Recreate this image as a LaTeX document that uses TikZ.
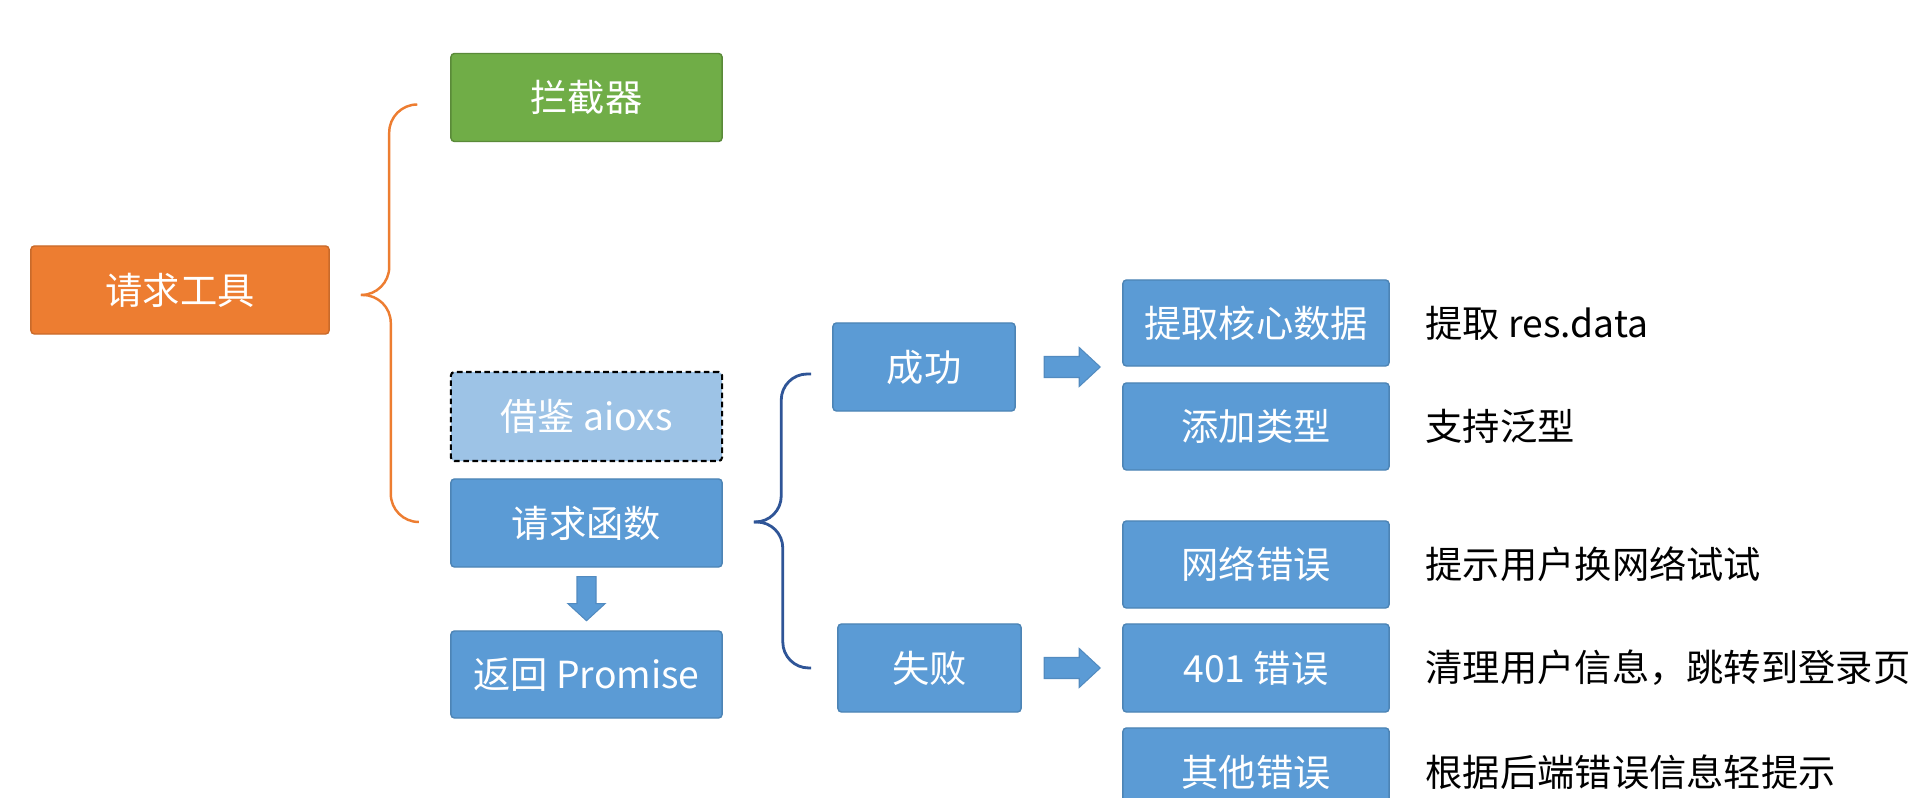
\documentclass[tikz,border=0pt]{standalone}
\usepackage{fontspec}
\setmainfont{Noto Sans CJK SC}
\usetikzlibrary{calc}
\definecolor{toolorange}{HTML}{ED7D31}
\definecolor{toolgreen}{HTML}{70AD47}
\definecolor{toolblue}{HTML}{5B9BD5}
\definecolor{toollight}{HTML}{9DC3E6}
\definecolor{bracenavy}{HTML}{2F5597}
\tikzset{
  box/.style={rectangle,rounded corners=1pt,inner sep=0pt,minimum height=0.88cm,
    text=white,line width=0.4pt,font=\fontsize{10.6pt}{12pt}\selectfont},
  bluebox/.style={box,fill=toolblue,draw=toolblue!85!black},
  note/.style={anchor=west,inner sep=0pt,font=\fontsize{10.6pt}{12pt}\selectfont},
  orangebrace/.style={draw=toolorange,line width=0.7pt,rounded corners=0.28cm},
  bluebrace/.style={draw=bracenavy,line width=0.8pt,rounded corners=0.26cm},
  fatarrow/.style={fill=toolblue,draw=toolblue!90!black,line width=0.3pt}
}
\begin{document}
\begin{tikzpicture}[x=0.01cm,y=-0.01cm]
  \useasboundingbox (0,0) rectangle (1926,798);
  \clip (0,0) rectangle (1926,798);
  % left column
  \node[box,fill=toolorange,draw=toolorange!85!black,minimum width=2.98cm] (tool) at (180,290) {请求工具};
  \node[box,fill=toolgreen,draw=toolgreen!80!black,minimum width=2.71cm] (intercept) at (586.5,97.5) {拦截器};
  \node[box,fill=toollight,draw=black,line width=0.6pt,dash pattern=on 1.6pt off 1pt,minimum width=2.71cm,minimum height=0.89cm] (borrow) at (586.5,416.5) {借鉴 aioxs};
  \node[bluebox,minimum width=2.71cm] (call) at (586.5,523) {请求函数};
  \node[bluebox,minimum width=2.71cm,minimum height=0.87cm] (promise) at (586.5,674.5) {返回 Promise};
  % middle column
  \node[bluebox,minimum width=1.82cm] (succ) at (924,367) {成功};
  \node[bluebox,minimum width=1.83cm] (fail) at (929.5,668) {失败};
  % right column
  \node[bluebox,minimum width=2.66cm,minimum height=0.86cm] (data) at (1256,323) {提取核心数据};
  \node[bluebox,minimum width=2.66cm,minimum height=0.87cm] (generic) at (1256,426.5) {添加类型};
  \node[bluebox,minimum width=2.66cm,minimum height=0.87cm] (neterr) at (1256,564.5) {网络错误};
  \node[bluebox,minimum width=2.66cm] (e401) at (1256,668) {401 错误};
  \node[bluebox,minimum width=2.66cm] (other) at (1256,772) {其他错误};
  \node[note] (ndata) at (1425,323) {提取 res.data};
  \node[note] (ngeneric) at (1425,426.5) {支持泛型};
  \node[note] (nneterr) at (1425,564.5) {提示用户换网络试试};
  \node[note] (ne401) at (1425,668) {清理用户信息，跳转到登录页};
  \node[note] (nother) at (1425,772) {根据后端错误信息轻提示};
  % braces
  \coordinate (b1tip) at ($(tool.east)+(31,5)$);
  \coordinate (b1top) at ($(intercept.west)+(-33,7)$);
  \coordinate (b1bot) at ($(call.west)+(-33,-1)$);
  \draw[orangebrace] (b1top) -- ++(-28,0) |- (b1tip);
  \draw[orangebrace] (b1tip) -- ++(30,0) |- (b1bot);
  \coordinate (b2tip) at ($(call.east)+(31,-1)$);
  \coordinate (b2top) at ($(succ.west)+(-21,7)$);
  \coordinate (b2bot) at ($(fail.west)+(-26,0)$);
  \draw[bluebrace] (b2top) -- ++(-30,0) |- (b2tip);
  \draw[bluebrace] (b2tip) -- ++(29,0) |- (b2bot);
  % fat arrows
  \fill[fatarrow] ($(call.south)+(-9.5,9)$) -- ++(19,0) -- ++(0,27) -- ++(9,0)
    -- ++(-18.5,17) -- ++(-18.5,-17) -- ++(9,0) -- cycle;
  \fill[fatarrow] ($(succ.east -| data.west)+(-78,-10.5)$) -- ++(35,0) -- ++(0,-9)
    -- ++(21,19.5) -- ++(-21,19.5) -- ++(0,-9) -- ++(-35,0) -- cycle;
  \fill[fatarrow] ($(fail.east -| e401.west)+(-78,-10.5)$) -- ++(35,0) -- ++(0,-9)
    -- ++(21,19.5) -- ++(-21,19.5) -- ++(0,-9) -- ++(-35,0) -- cycle;
\end{tikzpicture}
\end{document}
